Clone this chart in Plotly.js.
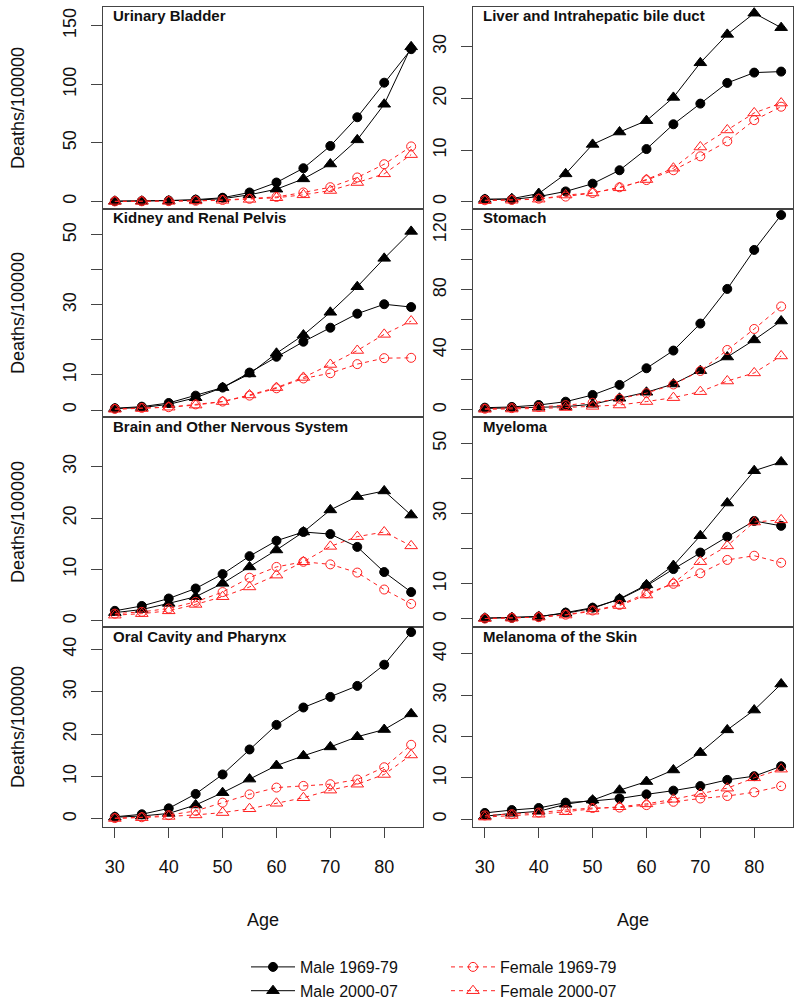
<!DOCTYPE html>
<html>
<head>
<meta charset="utf-8">
<script src="https://cdn.plot.ly/plotly-3.0.1.min.js"></script>
<style>html,body{margin:0;padding:0;background:#fff;}#chart{width:800px;height:1002px;}</style>
</head>
<body>
<div id="chart"></div>
<script>
const ages = [30,35,40,45,50,55,60,65,70,75,80,85];
const seriesNames = ["Male 1969-79","Male 2000-07","Female 1969-79","Female 2000-07"];
const panelTitles = ["Urinary Bladder","Liver and Intrahepatic bile duct","Kidney and Renal Pelvis","Stomach","Brain and Other Nervous System","Myeloma","Oral Cavity and Pharynx","Melanoma of the Skin"];

const bladderM69 = [0.3,0.4,0.8,1.6,3.2,7.7,16.2,28.4,47.4,71.9,101.4,130];
const bladderM00 = [0.2,0.3,0.5,1.1,2.4,5.7,10.5,19.3,32,52.6,83,132];
const bladderF69 = [0.1,0.2,0.3,0.6,1.3,2.3,3.9,7.7,12.2,20.5,31.8,47];
const bladderF00 = [0.1,0.1,0.2,0.5,1,1.8,3.2,5.7,9.4,16.2,23.6,40];

const liverM69 = [0.5,0.45,1,2,3.5,6.1,10.2,15,19,23,25,25.2];
const liverM00 = [0.45,0.6,1.6,5.4,11.1,13.5,15.7,20.2,26.9,32.4,36.5,33.7];
const liverF69 = [0.3,0.35,0.6,1.0,1.7,2.8,4.2,6.1,8.8,11.7,15.8,18.4];
const liverF00 = [0.2,0.3,0.5,1.3,1.7,2.7,4.3,6.5,10.6,13.9,17.2,19.1];

const kidneyM69 = [0.5,0.95,2,4.1,6.4,10.7,15.2,19.5,23.5,27.5,30.2,29.4];
const kidneyM00 = [0.4,0.7,1.6,3.5,6.4,10.3,16.2,21.4,27.9,35.2,43.3,51];
const kidneyF69 = [0.3,0.6,0.8,1.6,2.4,4.1,6.2,9.0,10.5,13.1,14.8,14.9];
const kidneyF00 = [0.2,0.4,0.8,1.4,2.4,4.3,6.4,9.3,13,17,21.6,25.4];

const stomachM69 = [1.5,2,3.3,5.5,10,16.7,27.8,39.6,57.6,80.7,106.7,130];
const stomachM00 = [1,1.2,1.8,2.2,3.8,7.8,11.8,17.3,26.2,35.3,46.7,59.3];
const stomachF69 = [0.8,1.2,2,3.2,4.8,7.5,11.2,17,26,40,54,69];
const stomachF00 = [0.4,0.6,1,1.6,2.4,3.3,5.6,8.2,12.2,19.3,24.7,36];

const brainM69 = [1.95,2.9,4.35,6.3,9.1,12.6,15.6,17.3,16.9,14.4,9.5,5.6];
const brainM00 = [1.6,2.2,3.4,4.7,7.3,10.5,13.8,17.3,21.6,24.2,25.3,20.6];
const brainF69 = [1.4,1.75,2.4,3.7,5.6,8.4,10.5,11.5,11,9.4,6.1,3.3];
const brainF00 = [1.1,1.4,1.95,3.2,4.7,6.6,8.9,11.5,14.5,16.4,17.3,14.6];

const myelomaM69 = [0.2,0.3,0.6,1.8,3.2,5.6,9.4,14.2,18.9,23.4,27.9,26.5];
const myelomaM00 = [0.2,0.4,0.7,1.6,3,5.7,9.7,15.2,23.7,33,42.2,44.7];
const myelomaF69 = [0.1,0.3,0.5,1.2,2.4,4,7.3,10,13,16.8,18,16];
const myelomaF00 = [0.1,0.2,0.5,1.1,2.2,3.8,6.8,10.2,16.3,20.8,27.6,28.2];

const oralM69 = [0.5,1.1,2.5,5.9,10.5,16.4,22.2,26.3,28.8,31.4,36.4,44.1];
const oralM00 = [0.4,0.7,1.3,3.3,6.2,9.4,12.6,14.9,17,19.4,21.1,24.8];
const oralF69 = [0.2,0.4,0.9,1.9,3.85,5.8,7.4,7.8,8.2,9.3,12.2,17.5];
const oralF00 = [0.1,0.3,0.6,0.95,1.5,2.4,3.7,5,6.8,8.2,10.5,15.1];

const melanomaM69 = [1.5,2.2,2.7,4,4.4,5,6,6.9,8,9.5,10.4,12.8];
const melanomaM00 = [0.7,1.4,1.9,3.6,4.6,7,9.1,11.9,16.1,21.6,26.4,32.7];
const melanomaF69 = [0.9,1.2,1.6,2.2,2.7,2.8,3.4,4.2,5,5.6,6.5,8];
const melanomaF00 = [0.5,0.9,1.2,1.8,2.5,3,3.7,4.8,6.2,7.5,10,12.1];

const xTicks = [30,40,50,60,70,80];
const yTicks = [[0,50,100,150],[0,10,20,30],[0,10,20,30,40,50],[0,20,40,60,80,100,120],[0,10,20,30],[0,10,20,30,40,50],[0,10,20,30,40],[0,10,20,30,40]];
const yTickText = [["0","50","100","150"],["0","10","20","30"],["0","10","","30","","50"],["0","","40","","80","","120"],["0","10","20","30"],["0","10","","30","","50"],["0","10","20","30","40"],["0","10","20","30","40"]];

const panelData = [
  [bladderM69,bladderM00,bladderF69,bladderF00],
  [liverM69,liverM00,liverF69,liverF00],
  [kidneyM69,kidneyM00,kidneyF69,kidneyF00],
  [stomachM69,stomachM00,stomachF69,stomachF00],
  [brainM69,brainM00,brainF69,brainF00],
  [myelomaM69,myelomaM00,myelomaF69,myelomaF00],
  [oralM69,oralM00,oralF69,oralF00],
  [melanomaM69,melanomaM00,melanomaF69,melanomaF00]
];

// layout geometry (pixels)
const W = 800, H = 1002;
const colX = [[103,423],[473,793]];
const rowY = [[7,209],[209,417],[417,627],[627,827]];
const yRanges = [[-6.4,166],[-1.4,37.7],[-2,57.4],[-4.7,134],[-1.2,39.7],[-2.3,57.5],[-1.9,45.3],[-1.9,46.5]];

const styles = [
  {color:'#000', symbol:'circle', dash:'solid', lw:1, ms:9, legend:'legend'},
  {color:'#000', symbol:'triangle-up', dash:'solid', lw:1, ms:11, legend:'legend'},
  {color:'#ff2020', symbol:'circle-open', dash:'4px,4px', lw:1, ms:9, legend:'legend2'},
  {color:'#ff2020', symbol:'triangle-up-open', dash:'4px,4px', lw:1, ms:11, legend:'legend2'}
];

const legendCommon = {orientation:'v', xanchor:'left', yanchor:'top', y: 1-950/H,
  font:{size:16, color:'#111'}, bgcolor:'rgba(0,0,0,0)', borderwidth:0, tracegroupgap:0, itemwidth:44};

const traces = [];
const layout = {
  width: W, height: H,
  margin: {l:0, r:0, t:0, b:0, autoexpand:false},
  paper_bgcolor: '#fff', plot_bgcolor: '#fff',
  font: {family: 'Liberation Sans, Arial, sans-serif', size: 18, color: '#111'},
  showlegend: true,
  legend: Object.assign({}, legendCommon, {x: 246/W}),
  legend2: Object.assign({}, legendCommon, {x: 446/W}),
  annotations: []
};

for (let p = 0; p < 8; p++) {
  const col = p % 2, row = Math.floor(p / 2);
  const ax = p === 0 ? '' : String(p + 1);
  const xa = 'xaxis' + ax, ya = 'yaxis' + ax;
  const bottom = row === 3;
  layout[xa] = {
    domain: [colX[col][0]/W, colX[col][1]/W],
    anchor: 'y' + ax,
    range: [27.8, 87.2],
    showgrid: false, zeroline: false,
    showline: true, mirror: true, linecolor: '#444', linewidth: 1,
    tickvals: xTicks,
    ticks: bottom ? 'outside' : '',
    ticklen: 10, tickcolor: '#444',
    showticklabels: bottom,
    ticklabelstandoff: 13,
    tickfont: {size: 18, color: '#111'}
  };
  layout[ya] = {
    domain: [1 - rowY[row][1]/H, 1 - rowY[row][0]/H],
    anchor: 'x' + ax,
    range: yRanges[p],
    showgrid: false, zeroline: false,
    showline: true, mirror: true, linecolor: '#444', linewidth: 1,
    tickvals: yTicks[p], ticktext: yTickText[p],
    ticks: 'outside', ticklen: 11, tickcolor: '#444',
    tickangle: -90,
    ticklabelstandoff: 8,
    tickfont: {size: 18, color: '#111'}
  };
  for (let s = 0; s < 4; s++) {
    const st = styles[s];
    traces.push({
      type: 'scatter', mode: 'lines+markers',
      x: ages, y: panelData[p][s],
      xaxis: 'x' + ax, yaxis: 'y' + ax,
      name: seriesNames[s],
      legend: st.legend,
      showlegend: p === 0,
      line: {color: st.color, width: st.lw, dash: st.dash},
      marker: {symbol: st.symbol, size: st.ms, color: st.color, line: {color: st.color, width: 1}},
      hoverinfo: 'x+y'
    });
  }
  layout.annotations.push({
    xref: 'paper', yref: 'paper',
    x: (colX[col][0] + 8)/W, y: 1 - (rowY[row][0] + 9)/H,
    xanchor: 'left', yanchor: 'middle',
    text: '<b>' + panelTitles[p] + '</b>', showarrow: false,
    font: {size: 15, color: '#111'}
  });
  if (col === 0) {
    layout.annotations.push({
      xref: 'paper', yref: 'paper',
      x: 18/W, y: 1 - ((rowY[row][0] + rowY[row][1])/2)/H,
      xanchor: 'center', yanchor: 'middle', textangle: -90,
      text: 'Deaths/100000', showarrow: false,
      font: {size: 18, color: '#111'}
    });
  }
  if (bottom) {
    layout.annotations.push({
      xref: 'paper', yref: 'paper',
      x: ((colX[col][0] + colX[col][1])/2)/W, y: 1 - 920/H,
      xanchor: 'center', yanchor: 'middle',
      text: 'Age', showarrow: false,
      font: {size: 18, color: '#111'}
    });
  }
}

Plotly.newPlot('chart', traces, layout, {staticPlot: true, displayModeBar: false});
</script>
</body>
</html>
